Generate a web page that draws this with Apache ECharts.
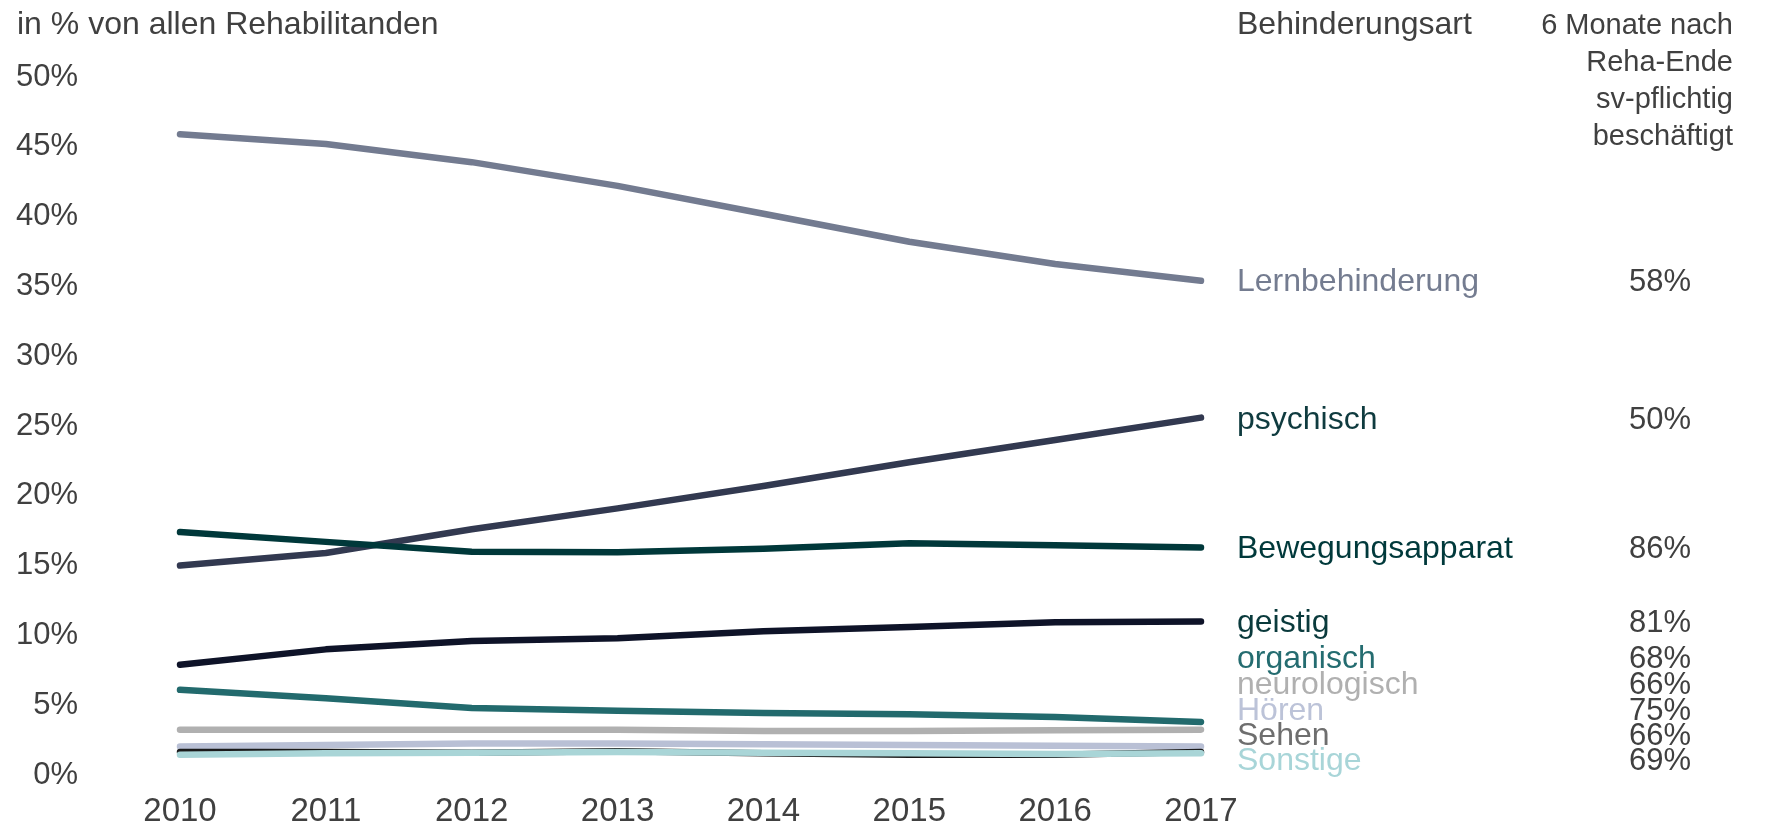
<!DOCTYPE html>
<html>
<head>
<meta charset="utf-8">
<script src="https://cdn.jsdelivr.net/npm/echarts@6/dist/echarts.min.js"></script>
<style>
  html, body { margin: 0; padding: 0; background: #ffffff; }
  #chart { width: 1767px; height: 828px; }
</style>
</head>
<body>
<div id="chart"></div>
<script>
  // Jahre
  const years = ['2010', '2011', '2012', '2013', '2014', '2015', '2016', '2017'];

  // Anteil an allen Rehabilitanden in %
  const lernbehinderung  = [45.9, 45.2, 43.9, 42.2, 40.2, 38.2, 36.6, 35.4];
  const psychisch        = [15.0, 15.9, 17.6, 19.1, 20.7, 22.4, 24.0, 25.6];
  const bewegungsapparat = [17.4, 16.7, 16.0, 15.95, 16.2, 16.6, 16.45, 16.3];
  const geistig          = [7.9, 9.0, 9.6, 9.8, 10.3, 10.6, 10.95, 11.0];
  const organisch        = [6.1, 5.5, 4.8, 4.6, 4.45, 4.35, 4.15, 3.8];
  const neurologisch     = [3.25, 3.25, 3.25, 3.25, 3.15, 3.15, 3.2, 3.25];
  const hoeren           = [2.05, 2.15, 2.25, 2.25, 2.2, 2.15, 2.1, 2.05];
  const sehen            = [1.65, 1.65, 1.6, 1.7, 1.55, 1.45, 1.45, 1.65];
  const sonstige         = [1.45, 1.55, 1.6, 1.65, 1.6, 1.55, 1.5, 1.55];

  // 6 Monate nach Reha-Ende sv-pflichtig beschäftigt
  const names   = ['Lernbehinderung', 'psychisch', 'Bewegungsapparat', 'geistig', 'organisch', 'neurologisch', 'Hören', 'Sehen', 'Sonstige'];
  const quoten  = ['58%', '50%', '86%', '81%', '68%', '66%', '75%', '66%', '69%'];
  const allData = [lernbehinderung, psychisch, bewegungsapparat, geistig, organisch, neurologisch, hoeren, sehen, sonstige];

  const lineColors  = ['#737b90', '#323950', '#00383a', '#0e1328', '#226a6d', '#b0b0b0', '#b9c0d5', '#1a1a1a', '#a9d5d7'];
  const labelColors = ['#747c90', '#0f3b3f', '#00393b', '#0a3a3c', '#246c70', '#b0b0b0', '#bcc3d8', '#6e6e6e', '#a8d5d8'];
  const labelY      = [282, 420, 549, 623, 659, 685, 711, 736, 761];

  const font = 'Liberation Sans, Arial, sans-serif';
  const textColor = '#404040';

  const myChart = echarts.init(document.getElementById('chart'));

  let series = [];
  for (let i = 0; i < names.length; i++) {
    series.push({
      name: names[i],
      type: 'line',
      data: allData[i],
      symbol: 'none',
      smooth: false,
      lineStyle: {
        color: lineColors[i],
        width: 6.5,
        cap: 'round',
        join: 'round'
      }
    });
  }

  let graphic = [
    { type: 'text', x: 17, y: 25, style: { text: 'in % von allen Rehabilitanden', font: '32px ' + font, fill: textColor, verticalAlign: 'middle' } },
    { type: 'text', x: 1237, y: 25, style: { text: 'Behinderungsart', font: '32px ' + font, fill: textColor, verticalAlign: 'middle' } }
  ];
  const header = ['6 Monate nach', 'Reha-Ende', 'sv-pflichtig', 'beschäftigt'];
  for (let i = 0; i < header.length; i++) {
    graphic.push({
      type: 'text', x: 1733, y: 26 + i * 37,
      style: { text: header[i], font: '29px ' + font, fill: textColor, align: 'right', verticalAlign: 'middle' }
    });
  }
  for (let i = 0; i < names.length; i++) {
    graphic.push({
      type: 'text', x: 1237, y: labelY[i],
      style: { text: names[i], font: '32px ' + font, fill: labelColors[i], verticalAlign: 'middle' }
    });
    graphic.push({
      type: 'text', x: 1691, y: labelY[i],
      style: { text: quoten[i], font: '31px ' + font, fill: textColor, align: 'right', verticalAlign: 'middle' }
    });
  }

  const chartOption = {
    backgroundColor: '#ffffff',
    animation: false,
    grid: {
      left: 180,
      right: 566,
      top: 77,
      bottom: 51,
      containLabel: false
    },
    xAxis: {
      type: 'category',
      data: years,
      boundaryGap: false,
      axisLine: { show: false },
      axisTick: { show: false },
      splitLine: { show: false },
      axisLabel: {
        color: textColor,
        fontSize: 33,
        fontFamily: font,
        margin: 20
      }
    },
    yAxis: {
      type: 'value',
      min: 0,
      max: 50,
      interval: 5,
      axisLine: { show: false },
      axisTick: { show: false },
      splitLine: { show: false },
      axisLabel: {
        color: textColor,
        fontSize: 31,
        fontFamily: font,
        margin: 102,
        formatter: '{value}%'
      }
    },
    graphic: graphic,
    series: series
  };

  myChart.setOption(chartOption);
</script>
</body>
</html>
